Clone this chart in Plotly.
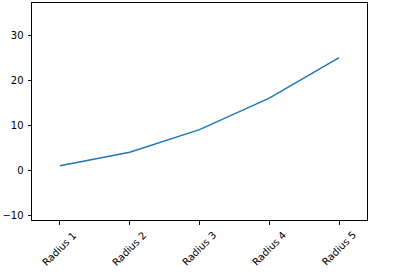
import plotly.graph_objects as go

categories = ["Radius 1", "Radius 2", "Radius 3", "Radius 4", "Radius 5"]
values = [1, 4, 9, 16, 25]
y_ticks = [-10, 0, 10, 20, 30]

fig = go.Figure()
fig.add_trace(go.Scatter(x=categories, y=values, mode="lines",
                         line=dict(color="#1f77b4", width=1.5)))

font = dict(family="DejaVu Sans", size=10, color="black")

for c in categories:
    fig.add_annotation(x=c, y=0, xref="x", yref="paper", text=c,
                       showarrow=False, textangle=-45, xanchor="center",
                       yanchor="top", yshift=-7, font=font)

fig.update_layout(
    width=400, height=274,
    margin=dict(l=32, r=33, t=3, b=54),
    paper_bgcolor="white", plot_bgcolor="white",
    showlegend=False,
    font=font,
)
fig.update_xaxes(type="category", range=[-0.4, 4.4], showline=True, mirror=True,
                 linecolor="black", linewidth=1, ticks="outside", ticklen=3.5,
                 tickcolor="black", tickwidth=1, showticklabels=False,
                 showgrid=False, zeroline=False)
fig.update_yaxes(range=[-11.05, 37.1], tickvals=y_ticks, showline=True, mirror=True,
                 linecolor="black", linewidth=1, ticks="outside", ticklen=3.5,
                 tickcolor="black", tickwidth=1, showgrid=False, zeroline=False,
                 tickfont=font, ticklabelstandoff=2)

fig.write_html("out.html")
